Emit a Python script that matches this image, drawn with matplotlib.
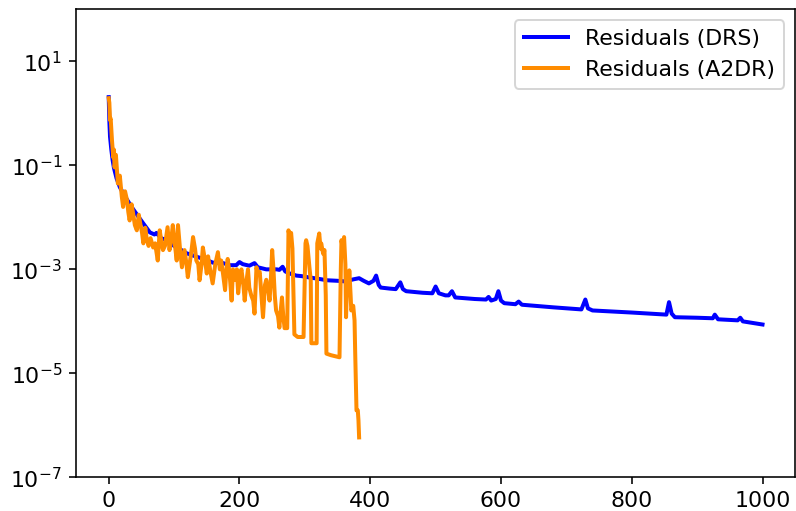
import numpy as np
import matplotlib
matplotlib.use("Agg")
import matplotlib.pyplot as plt

# iteration index and log10 of the residual
drs_iter = [0, 1, 2, 4, 6, 8, 12, 17, 25, 35, 45, 53, 63, 70, 73, 80, 89, 100,
            110, 119, 135, 150, 159, 175, 185, 195, 200, 205, 215, 223, 228, 241,
            257, 261, 266, 270, 277, 287, 295, 304, 320, 334, 350, 360, 368, 375,
            383, 390, 398, 405, 409, 413, 416, 430, 439, 446, 450, 455, 480, 495,
            500, 505, 515, 520, 525, 530, 560, 577, 581, 585, 592, 596, 600, 605,
            622, 627, 632, 680, 723, 729, 733, 740, 800, 853, 857, 861, 866, 900,
            924, 927, 932, 962, 966, 970, 1000]
drs_log10 = [0.31, -0.15, -0.45, -0.7, -0.9, -1.05, -1.25, -1.42, -1.6, -1.8,
             -1.98, -2.12, -2.29, -2.33, -2.3, -2.4, -2.44, -2.55, -2.62, -2.69,
             -2.76, -2.82, -2.87, -2.88, -2.92, -2.92, -2.86, -2.9, -2.93, -2.88,
             -2.96, -3.0, -3.0, -3.01, -2.95, -3.04, -3.08, -3.12, -3.13, -3.15,
             -3.18, -3.21, -3.22, -3.23, -3.21, -3.19, -3.17, -3.22, -3.27, -3.22,
             -3.12, -3.3, -3.35, -3.37, -3.38, -3.25, -3.38, -3.42, -3.45, -3.46,
             -3.33, -3.46, -3.5, -3.5, -3.42, -3.54, -3.57, -3.58, -3.53, -3.6,
             -3.57, -3.42, -3.6, -3.65, -3.67, -3.62, -3.68, -3.73, -3.77, -3.58,
             -3.75, -3.79, -3.83, -3.87, -3.63, -3.85, -3.92, -3.93, -3.94, -3.87,
             -3.96, -3.98, -3.93, -4.0, -4.06]

a2dr_iter = [0, 1, 2, 3, 5, 7, 8, 9, 11, 14, 17, 20, 22, 25, 28, 30, 32, 35, 37,
             40, 43, 46, 48, 51, 53, 56, 58, 61, 64, 68, 71, 75, 78, 81, 83, 86,
             90, 93, 96, 98, 101, 104, 106, 109, 112, 116, 119, 121, 124, 127,
             129, 132, 134, 137, 139, 142, 144, 147, 150, 152, 155, 159, 163, 167,
             170, 172, 175, 178, 180, 182, 185, 188, 190, 193, 196, 198, 201, 203,
             206, 208, 211, 213, 215, 218, 221, 223, 226, 228, 231, 233, 236, 239,
             241, 244, 246, 248, 250, 252, 254, 256, 259, 261, 263, 265, 267, 269,
             273, 275, 277, 279, 281, 284, 289, 296, 298, 301, 302, 304, 307, 309,
             310, 318, 319, 322, 324, 325, 328, 330, 332, 333, 340, 353, 355, 356,
             358, 360, 362, 363, 365, 367, 368, 370, 371, 374, 376, 377, 379, 381,
             382, 383]
a2dr_log10 = [0.29, 0.2, -0.13, -0.1, -0.52, -0.85, -0.7, -1.04, -0.8, -1.35,
              -1.2, -1.6, -1.8, -1.5, -1.67, -1.9, -2.06, -1.75, -1.9, -2.15,
              -2.25, -1.95, -2.1, -2.3, -2.5, -2.2, -2.4, -2.55, -2.4, -2.58,
              -2.5, -2.83, -2.25, -2.5, -2.63, -2.55, -2.19, -2.63, -2.4, -2.15,
              -2.5, -2.83, -2.15, -2.6, -2.96, -2.63, -2.9, -3.15, -2.88, -2.6,
              -2.38, -2.6, -2.83, -2.9, -3.21, -2.9, -2.58, -2.8, -3.08, -2.75,
              -3.0, -3.27, -2.9, -2.67, -3.0, -2.83, -3.1, -3.4, -3.0, -2.8,
              -3.1, -3.6, -3.0, -3.2, -3.0, -3.46, -3.1, -3.0, -3.3, -3.6, -3.2,
              -3.0, -3.35, -3.5, -3.6, -3.85, -2.96, -3.1, -3.05, -3.4, -3.92,
              -3.3, -3.2, -3.4, -3.6, -3.2, -2.63, -3.0, -3.5, -3.79, -3.9, -4.12,
              -3.8, -3.54, -3.9, -4.13, -4.13, -2.25, -2.4, -2.3, -2.6, -4.25,
              -4.3, -4.3, -4.3, -2.5, -2.44, -2.55, -2.96, -3.2, -4.42, -4.42,
              -2.5, -2.31, -2.6, -2.5, -2.7, -2.63, -3.5, -4.62, -4.65, -4.69,
              -3.0, -2.44, -2.6, -2.38, -2.9, -3.92, -3.08, -3.3, -3.02, -3.5,
              -3.79, -3.7, -3.98, -4.6, -5.71, -5.71, -5.9, -6.23]

plt.rcParams["font.size"] = 11

fig = plt.figure(figsize=(796 / 144, 511 / 144), dpi=144)
ax = fig.add_axes([0.0955, 0.0656, 0.9035, 0.9164])

ax.plot(drs_iter, 10.0 ** np.array(drs_log10), color="blue", lw=2,
        label="Residuals (DRS)")
ax.plot(a2dr_iter, 10.0 ** np.array(a2dr_log10), color="darkorange", lw=2,
        label="Residuals (A2DR)")

ax.set_yscale("log")
ax.set_xlim(-50, 1050)
ax.set_ylim(1e-7, 1e2)
ax.set_yticks([1e1, 1e-1, 1e-3, 1e-5, 1e-7])
ax.yaxis.set_minor_locator(matplotlib.ticker.NullLocator())
ax.legend(loc="upper right")

fig.savefig("out.png", dpi=144)
